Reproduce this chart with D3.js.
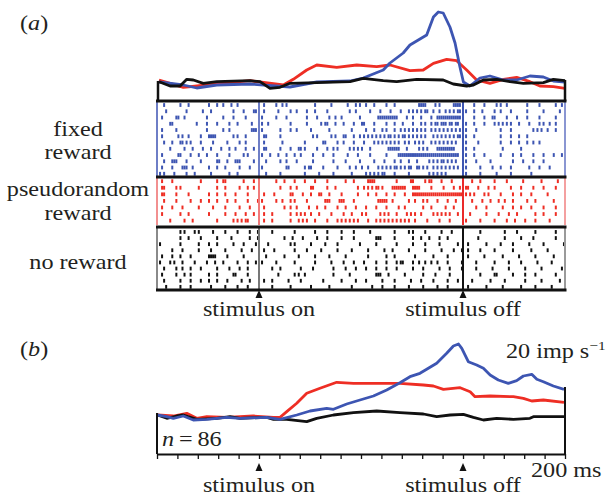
<!DOCTYPE html>
<html>
<head>
<meta charset="utf-8">
<script src="https://cdn.jsdelivr.net/npm/d3@7"></script>
<style>
body{margin:0;background:#fff;}
text{font-family:"Liberation Serif","DejaVu Serif",serif;fill:#231f20;}
</style>
</head>
<body>
<svg id="fig" width="606" height="499"></svg>
<script>
"use strict";

//Time points (ms from stimulus on) and firing rates (imp/s) of the single cell, panel (a)
var timeBlueA = [-490,-371,-305,-207,-44,152,283,446,511,609,642,707,740,822,855,879,903,936,961,985,1002,1034,1083,1132,1198,1263,1328,1394,1443,1500];
var rateBlueA = [18,15,12,15,16,13,18,19,22,30,37,47,55,65,83,88,87,73,57,33,18,14,22,24,20,20,24,23,19,18];
var timeRedA = [-490,-436,-371,-305,-207,-44,119,168,234,283,381,479,577,642,740,805,855,920,969,1018,1067,1132,1198,1263,1328,1377,1443,1500];
var rateRedA = [20,16.7,12.7,14,16,19.3,15,20.7,30,35,32.7,35,33.3,35,29.3,30,36.7,40.7,39.3,30,20,16.7,20.7,22.7,18.3,14,13.3,11.7];
var timeBlackA = [-490,-436,-387,-354,-322,-273,-207,-44,5,54,103,152,283,446,511,609,675,773,903,952,1018,1051,1100,1165,1230,1296,1394,1443,1500];
var rateBlackA = [18.3,14,14,20.7,20,16.7,18.3,19.3,18.3,11.7,12.7,16.7,17.3,18.3,21.7,19.3,18.3,20.7,20,16,14,15,20,20.7,18.3,16.7,17.3,20.7,19.3];

//Population averages, panel (b)
var timeBlueB = [-498,-452,-420,-371,-322,-256,-158,-93,38,103,185,250,332,365,430,495,561,626,691,740,789,822,871,920,953,978,994,1026,1067,1100,1133,1173,1222,1263,1296,1337,1362,1394,1443,1495];
var rateBlueB = [39,37.3,35.7,38,34,34.7,36.7,35.7,36.7,34.7,39,43,45.7,44.7,50,54,58,64,71.3,77.3,80.7,84.7,90.7,100.7,108,110,105.7,92.3,89,85.7,79,74,70.7,73.3,78,79.7,74.7,72.3,68,64.7];
var timeRedB = [-498,-420,-354,-305,-256,-158,-28,71,103,136,185,234,299,381,463,593,691,806,855,904,986,1035,1059,1133,1247,1296,1337,1394,1495];
var rateRedB = [39,38,40.7,35.7,37.3,36.7,38,36.7,36.7,42.3,50.7,60.7,65.7,71.7,70.7,70.7,70.7,69,68,64.7,66.3,62.3,57.3,58,57.3,55.7,53,54,51.7];
var timeBlackB = [-498,-452,-403,-371,-305,-207,-142,-93,38,71,136,234,283,365,463,577,691,806,871,937,1002,1051,1100,1165,1247,1328,1345,1495];
var rateBlackB = [39,35.7,38,39,34.7,35.7,37.3,35.7,36.7,34.7,34.7,32.3,35.7,39,41.3,43,41.3,40,37.3,39,39.7,36.7,34,35.7,34.7,35.7,37.3,37.3];

//Spike rasters: each trial is a list of 10 ms bins counted from -500 ms
var spikesFixed = [
	[3,11,15,25,29,32,36,39,52,58,61,63,77,85,93,97,99,102,106,112,116,128,129,130,131,136,138,145,146,147,148,155,160,166,168,171,181,187,195,198],
	[4,14,22,26,37,42,47,48,52,59,65,68,73,77,83,94,97,104,109,114,119,123,125,127,129,131,132,135,138,141,143,145,147,148,151,155,159,165,168,173,181,189,197],
	[2,9,10,13,24,32,37,43,51,58,63,73,78,84,87,90,99,108,109,110,111,112,113,114,115,116,117,122,125,129,134,137,138,139,140,141,142,143,144,145,146,147,148,155,160,164,165,171,176,181,187,195],
	[6,7,19,24,29,35,39,46,51,54,65,73,80,82,83,87,91,96,100,101,106,112,116,120,125,129,131,134,136,137,139,140,141,143,144,146,147,151,155,160,165,167,169,171,173,177,182,187,189,192,195],
	[2,9,24,32,35,46,47,48,51,60,65,68,75,84,95,102,106,110,112,116,119,121,123,125,127,129,131,134,136,138,140,142,144,146,148,151,156,168,173,184,186,188,191,195],
	[2,10,12,15,21,25,26,27,28,37,39,43,52,53,60,76,78,85,87,91,92,96,99,101,103,105,107,109,111,113,114,116,118,120,121,123,125,127,129,131,135,137,139,141,143,145,147,148,151,155,168,173,177,181],
	[3,7,11,12,14,16,21,27,34,40,43,52,61,72,81,82,88,91,96,101,106,108,110,112,114,116,118,121,123,126,128,130,134,136,138,140,142,144,146,151,157,168,173,177,181,184,187],
	[6,13,17,22,26,31,35,38,43,47,52,53,60,65,69,70,72,78,83,86,88,94,96,98,100,104,113,114,115,116,117,118,122,128,130,132,137,138,139,140,141,142,143,144,145,151,155,169,178],
	[2,10,11,16,20,24,29,35,42,44,51,55,59,63,67,70,76,81,86,93,98,104,112,118,119,120,121,122,123,124,125,126,127,128,129,130,131,132,133,134,135,136,137,138,139,140,141,142,143,144,145,146,147,151,155,160,168,174,178,184,189,194,198],
	[3,7,8,9,14,21,29,30,34,38,39,40,47,53,60,63,68,76,86,92,99,106,111,116,119,123,127,133,135,137,139,140,142,144,146,151,156,163,174,179,184,189],
	[2,7,12,13,14,17,25,29,33,40,45,51,63,64,72,74,75,81,88,94,97,100,103,108,110,112,114,116,117,119,121,123,124,127,128,130,132,135,137,139,141,143,145,147,151,158,164,168,173,182,187,192],
	[1,3,8,14,18,26,35,39,53,60,72,79,86,95,102,104,106,108,110,111,116,123,133,135,137,139,141,151,158,166,173,183]
];
var spikesPseudo = [
	[2,7,21,29,32,33,42,47,58,62,67,72,77,83,92,96,103,104,105,106,117,124,125,131,133,134,139,144,154,158,165,171,179,188,196],
	[2,3,9,11,20,29,33,40,44,47,60,65,68,75,76,83,87,98,101,103,105,107,108,110,115,116,117,118,119,120,121,125,126,127,128,134,140,145,148,151,152,157,162,165,173,178,184,189,195],
	[2,3,9,15,25,29,33,38,44,52,57,65,66,71,75,79,80,84,90,98,103,107,112,116,121,125,126,127,128,129,130,131,132,133,134,135,136,137,138,139,140,141,142,143,144,145,146,147,148,149,151,153,155,160,162,168,174,178,183,191],
	[3,9,16,21,25,29,34,38,44,49,51,58,61,65,67,73,82,83,84,89,90,91,96,108,109,110,111,112,115,123,126,130,132,137,142,146,154,159,163,167,170,174,181,185,194],
	[2,7,12,20,27,33,40,45,52,62,65,68,74,78,82,88,92,97,102,107,112,118,121,130,134,141,145,156,161,169,174,178,183,189,195],
	[2,11,15,25,33,38,43,47,52,56,65,68,70,72,75,79,85,91,95,100,102,109,111,113,117,122,124,126,129,135,137,139,141,143,147,153,161,167,172,176,185,189,195],
	[6,13,17,29,37,39,41,43,44,52,56,65,69,71,73,77,83,88,90,92,94,96,98,103,107,109,111,113,115,117,119,121,123,126,132,138,143,151,158,165,171,175,180,185,192]
];
var spikesNone = [
	[11,13,18,20,27,33,39,45,49,56,67,77,83,90,96,104,116,123,125,131,139,144,158,170,176,185,195],
	[11,15,21,29,36,45,49,62,66,71,78,83,90,96,107,108,109,116,125,129,133,138,142,157,170,178,184,195],
	[1,11,20,25,29,37,42,48,54,65,67,75,82,88,99,107,117,125,131,138,147,152,161,168,174,182,189,199],
	[7,12,20,26,33,41,46,52,57,67,73,80,88,95,103,111,115,123,131,139,145,149,152,158,165,174,183,191],
	[2,7,11,16,25,26,27,28,34,42,53,62,69,77,84,92,103,112,116,126,135,142,152,160,169,177,185,194],
	[1,6,8,12,18,24,28,32,39,44,48,51,58,67,77,85,91,96,101,107,112,117,119,120,125,128,131,134,137,142,149,156,165,172,178,186,193],
	[3,9,12,16,21,29,35,40,44,56,60,70,76,86,92,97,102,107,112,117,125,130,138,143,149,156,164,172,180,188,198],
	[2,9,13,16,25,29,37,38,44,59,67,69,72,86,94,107,108,109,113,121,130,136,143,158,165,166,174,180,185,195],
	[3,11,16,21,25,29,34,41,45,52,56,64,70,81,90,97,102,110,116,124,129,135,142,147,154,163,170,180,188,197],
	[4,11,16,26,33,39,44,56,65,75,84,95,105,110,116,123,130,137,142,152,161,169,178,185,193]
];

//Event times and axis ticks (ms)
var stimOn = 0;
var stimOff = 1000;
var tickTimes = d3.range(-500, 1501, 100);

var blue = "#3d55b2";
var red = "#ee2e24";
var black = "#111";

var svg = d3.select("#fig");

var x = d3.scaleLinear().domain([-500, 1500]).range([157, 565]);
var yA = d3.scaleLinear().domain([0, 90]).range([100, 10]);
var yB = d3.scaleLinear().domain([0, 100]).range([454, 354]);

//Draw one rate curve
function drawCurve(times, rates, y, col){
	var pts = times.map(function(t, i){ return [t, rates[i]]; });
	svg.append("path")
		.datum(pts)
		.attr("fill", "none")
		.attr("stroke", col)
		.attr("stroke-width", 2.8)
		.attr("stroke-linejoin", "round")
		.attr("d", d3.line()
			.x(function(d){ return x(d[0]); })
			.y(function(d){ return y(d[1]); }));
}

//Draw a raster block: trials, colored frame lines
// @param trials: list of spike bins per trial
// @param top, bottom: vertical extent of the block
// @param col: spike color, edges: colors of the 4 vertical lines
function drawRaster(trials, top, bottom, col, edges){
	var row = d3.scaleBand().domain(d3.range(trials.length)).range([top, bottom]);
	var g = svg.append("g");
	trials.forEach(function(tr, i){
		g.selectAll(null)
			.data(tr)
			.enter().append("rect")
			.attr("x", function(b){ return x(-500 + 10 * b); })
			.attr("y", row(i) + row.bandwidth() / 2 - 2)
			.attr("width", 2)
			.attr("height", 3.8)
			.attr("fill", col);
	});
	[-500, stimOn, stimOff, 1500].forEach(function(t, i){
		svg.append("line")
			.attr("x1", x(t)).attr("x2", x(t))
			.attr("y1", top - 1).attr("y2", bottom + 1)
			.attr("stroke", edges[i])
			.attr("stroke-width", 2);
	});
}

//Triangle marker under an event
function drawArrow(t, yTip){
	svg.append("path")
		.attr("d", "M0,0L3.5,8L-3.5,8Z")
		.attr("transform", "translate(" + x(t) + "," + yTip + ")")
		.attr("fill", black);
}

//The type in the figure is wide, so the text is stretched sideways
function addText(txt, px, py, anchor){
	return svg.append("text")
		.attr("transform", "translate(" + px + "," + py + ") scale(1.18,1)")
		.attr("font-size", "20.5px")
		.attr("text-anchor", anchor || "start")
		.text(txt);
}

//---------- panel (a)
var la = addText("(", 20, 30);
la.append("tspan").attr("font-style", "italic").text("a");
la.append("tspan").text(")");

drawCurve(timeRedA, rateRedA, yA, red);
drawCurve(timeBlueA, rateBlueA, yA, blue);
drawCurve(timeBlackA, rateBlackA, yA, black);

//frame of the psth
svg.append("line").attr("x1", x(-500) + 1).attr("x2", x(-500) + 1).attr("y1", 81).attr("y2", 101)
	.attr("stroke", black).attr("stroke-width", 2.5);
svg.append("line").attr("x1", x(1500)).attr("x2", x(1500)).attr("y1", 80).attr("y2", 101)
	.attr("stroke", black).attr("stroke-width", 2.5);

drawRaster(spikesFixed, 102, 177, blue, ["#6e7ec6", "#6e7ec6", blue, "#8a96d2"]);
drawRaster(spikesPseudo, 178, 224, red, ["#f29090", "#f07a7a", "#ea2a2a", "#f4a0a0"]);
drawRaster(spikesNone, 229, 290, black, ["#8a8a8a", "#777", black, "#9a9a9a"]);

[101, 177, 227, 290].forEach(function(yy){
	svg.append("line")
		.attr("x1", 156).attr("x2", 566.5)
		.attr("y1", yy).attr("y2", yy)
		.attr("stroke", black)
		.attr("stroke-width", 3);
});

addText("fixed", 78, 136, "middle");
addText("reward", 78, 159, "middle");
addText("pseudorandom", 78, 196, "middle");
addText("reward", 78, 220, "middle");
addText("no reward", 78, 269, "middle");

drawArrow(stimOn, 290);
drawArrow(stimOff, 290);
addText("stimulus on", x(stimOn), 316, "middle");
addText("stimulus off", x(stimOff), 316, "middle");

//---------- panel (b)
var lb = addText("(", 20, 356);
lb.append("tspan").attr("font-style", "italic").text("b");
lb.append("tspan").text(")");

drawCurve(timeRedB, rateRedB, yB, red);
drawCurve(timeBlackB, rateBlackB, yB, black);
drawCurve(timeBlueB, rateBlueB, yB, blue);

svg.append("line").attr("x1", x(-500)).attr("x2", x(-500)).attr("y1", 413).attr("y2", 454)
	.attr("stroke", black).attr("stroke-width", 2);
svg.append("line").attr("x1", x(1500)).attr("x2", x(1500)).attr("y1", 387).attr("y2", 454)
	.attr("stroke", black).attr("stroke-width", 2);

var axis = svg.append("g")
	.attr("transform", "translate(0,454)")
	.call(d3.axisBottom(x).tickValues(tickTimes).tickSize(5).tickSizeOuter(0).tickFormat(""));
axis.select(".domain").attr("stroke", black).attr("stroke-width", 2);
axis.selectAll(".tick line").attr("stroke", black).attr("stroke-width", 1.3);

drawArrow(stimOn, 463);
drawArrow(stimOff, 463);
addText("stimulus on", x(stimOn), 492, "middle");
addText("stimulus off", x(stimOff), 492, "middle");
addText("200 ms", 531, 477);

var sc = addText("20 imp s", 506, 358);
sc.append("tspan").attr("font-size", "13px").attr("dy", -8).text("\u22121");

var nn = addText("", 162, 446);
nn.append("tspan").attr("font-style", "italic").text("n");
nn.append("tspan").text("\u2009=\u200986");
</script>
</body>
</html>
